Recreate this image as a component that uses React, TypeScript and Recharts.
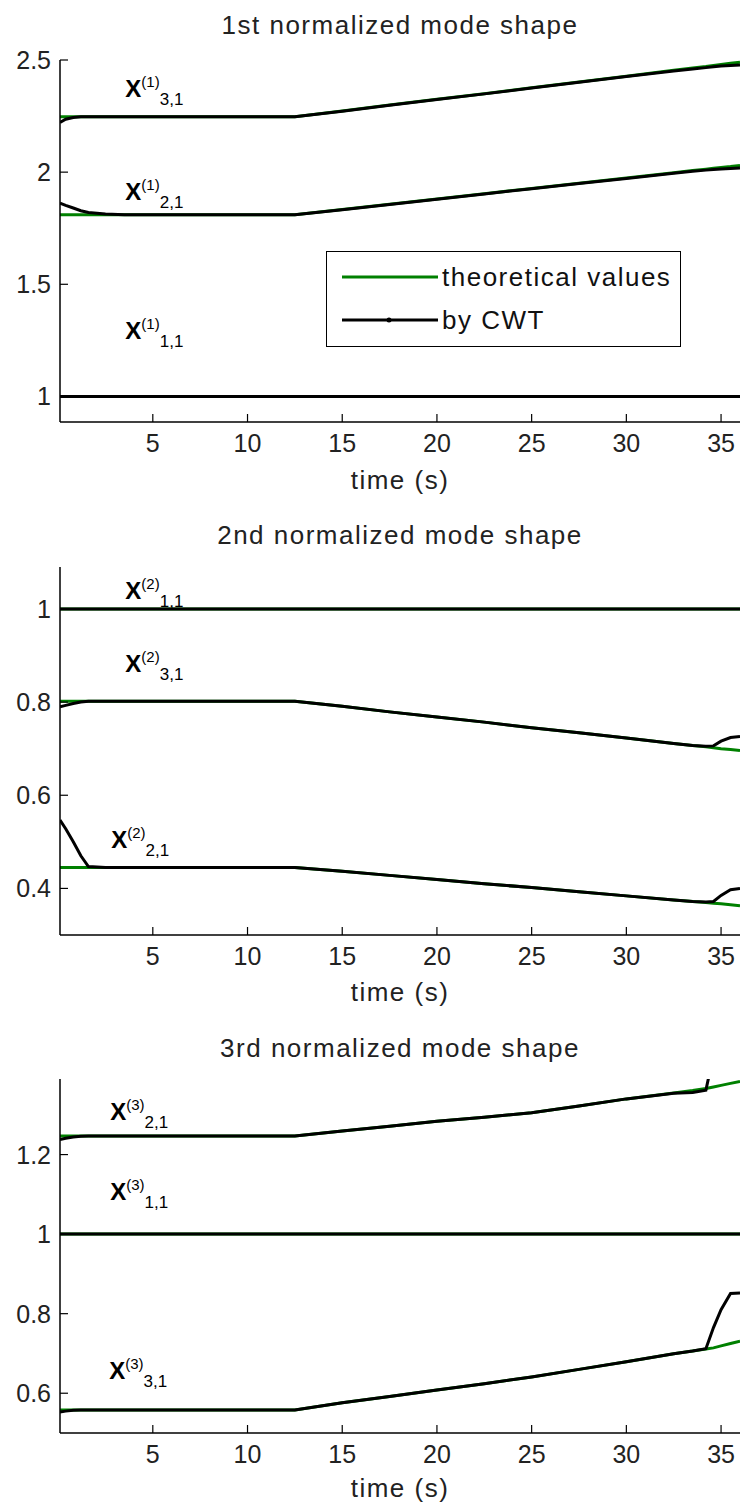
import React from "react";
import { LineChart, Line, XAxis, YAxis, ReferenceDot, Legend } from "recharts";

// shared time base (s)
const time = [0.1, 0.4, 0.8, 1.2, 1.6, 2.5, 3.5, 5, 10, 12.5, 15, 17.5, 20, 22.5, 25, 27.5, 30, 32.5, 33.5, 34.2, 34.6, 35, 35.5, 36];
const xTicks = [5, 10, 15, 20, 25, 30, 35];
const unity = [1, 1, 1, 1, 1, 1, 1, 1, 1, 1, 1, 1, 1, 1, 1, 1, 1, 1, 1, 1, 1, 1, 1, 1];
const legendNames = ["theoretical values", "by CWT"];

// 1st mode
const m1Theo31 = [2.247, 2.247, 2.247, 2.247, 2.247, 2.247, 2.247, 2.247, 2.247, 2.247, 2.273, 2.299, 2.325, 2.35, 2.376, 2.402, 2.428, 2.454, 2.464, 2.471, 2.476, 2.48, 2.485, 2.49];
const m1Cwt31 = [2.222, 2.236, 2.244, 2.247, 2.247, 2.247, 2.247, 2.247, 2.247, 2.247, 2.272, 2.298, 2.324, 2.349, 2.375, 2.401, 2.426, 2.451, 2.46, 2.466, 2.47, 2.473, 2.476, 2.478];
const m1Theo21 = [1.81, 1.81, 1.81, 1.81, 1.81, 1.81, 1.81, 1.81, 1.81, 1.81, 1.833, 1.857, 1.88, 1.904, 1.927, 1.95, 1.974, 1.997, 2.007, 2.013, 2.017, 2.021, 2.025, 2.03];
const m1Cwt21 = [1.862, 1.852, 1.84, 1.828, 1.82, 1.813, 1.81, 1.81, 1.81, 1.81, 1.832, 1.856, 1.879, 1.903, 1.926, 1.949, 1.972, 1.995, 2.004, 2.009, 2.012, 2.014, 2.016, 2.018];

// 2nd mode
const m2Theo31 = [0.802, 0.802, 0.802, 0.802, 0.802, 0.802, 0.802, 0.802, 0.802, 0.802, 0.791, 0.779, 0.768, 0.757, 0.745, 0.734, 0.723, 0.711, 0.707, 0.704, 0.702, 0.7, 0.698, 0.696];
const m2Cwt31 = [0.79, 0.793, 0.797, 0.8, 0.802, 0.802, 0.802, 0.802, 0.802, 0.802, 0.791, 0.779, 0.768, 0.757, 0.745, 0.734, 0.723, 0.711, 0.707, 0.705, 0.706, 0.716, 0.724, 0.726];
const m2Theo21 = [0.445, 0.445, 0.445, 0.445, 0.445, 0.445, 0.445, 0.445, 0.445, 0.445, 0.437, 0.428, 0.419, 0.41, 0.402, 0.393, 0.384, 0.375, 0.372, 0.37, 0.368, 0.367, 0.365, 0.363];
const m2Cwt21 = [0.547, 0.528, 0.5, 0.47, 0.447, 0.445, 0.445, 0.445, 0.445, 0.445, 0.437, 0.428, 0.419, 0.41, 0.402, 0.393, 0.384, 0.375, 0.372, 0.371, 0.372, 0.385, 0.397, 0.4];

// 3rd mode
const m3Theo21 = [1.247, 1.247, 1.247, 1.247, 1.247, 1.247, 1.247, 1.247, 1.247, 1.247, 1.259, 1.271, 1.284, 1.294, 1.305, 1.322, 1.34, 1.355, 1.361, 1.366, 1.37, 1.374, 1.379, 1.384];
const m3Cwt21 = [1.238, 1.241, 1.244, 1.246, 1.247, 1.247, 1.247, 1.247, 1.247, 1.247, 1.259, 1.271, 1.284, 1.294, 1.305, 1.322, 1.34, 1.354, 1.356, 1.362, 1.45, 1.55, 1.6, 1.65];
const m3Theo31 = [0.558, 0.558, 0.558, 0.558, 0.558, 0.558, 0.558, 0.558, 0.558, 0.558, 0.576, 0.592, 0.608, 0.624, 0.641, 0.66, 0.679, 0.699, 0.706, 0.711, 0.714, 0.719, 0.725, 0.731];
const m3Cwt31 = [0.553, 0.555, 0.557, 0.558, 0.558, 0.558, 0.558, 0.558, 0.558, 0.558, 0.576, 0.592, 0.608, 0.624, 0.641, 0.66, 0.679, 0.699, 0.706, 0.712, 0.765, 0.81, 0.851, 0.852];

const FONT = '"Liberation Sans", Arial, Helvetica, sans-serif';
const GREEN = "#008000";
const TICK = 8;

const rows = (g11: number[], c11: number[], g21: number[], c21: number[], g31: number[], c31: number[]) =>
  time.map((t, i) => ({ t, g11: g11[i], c11: c11[i], g21: g21[i], c21: c21[i], g31: g31[i], c31: c31[i] }));

const BottomTick = (p: any) => (
  <g>
    <line x1={p.x} x2={p.x} y1={p.y - 21} y2={p.y - 21 - TICK} stroke="#000" strokeWidth={1.2} />
    <text x={p.x} y={p.y} dy="0.36em" textAnchor="middle" fontSize={25} fontFamily={FONT} fill="#222">
      {p.payload.value}
    </text>
  </g>
);
const TopTick = (p: any) => (
  <line x1={p.x} x2={p.x} y1={p.y} y2={p.y + TICK} stroke="#000" strokeWidth={1.2} />
);
const LeftTick = (p: any) => (
  <g>
    <line x1={p.x + 9} x2={p.x + 9 + TICK} y1={p.y} y2={p.y} stroke="#000" strokeWidth={1.2} />
    <text x={p.x} y={p.y} dy="0.36em" textAnchor="end" fontSize={25} fontFamily={FONT} fill="#222">
      {p.payload.value}
    </text>
  </g>
);
const RightTick = (p: any) => (
  <line x1={p.x} x2={p.x - TICK} y1={p.y} y2={p.y} stroke="#000" strokeWidth={1.2} />
);

const modeLabel = (mode: number, sub: string) => (p: any) => (
  <text x={p.cx} y={p.cy} fontFamily={FONT} fill="#000">
    <tspan fontSize={24} fontWeight="bold">X</tspan>
    <tspan fontSize={15} dy={-10}>({mode})</tspan>
    <tspan fontSize={17} dy={18}>{sub}</tspan>
  </text>
);

const LegendBox = (props: any) => {
  const items = legendNames
    .map((n) => (props.payload || []).find((p: any) => p.value === n))
    .filter(Boolean);
  return (
    <div
      style={{
        width: 355, height: 96, border: "1.5px solid #000", background: "#fff",
        boxSizing: "border-box", position: "relative", fontFamily: FONT,
      }}
    >
      {items.map((p: any, i: number) => (
        <div key={p.value} style={{ position: "absolute", left: 15, top: 11 + i * 43, height: 28, display: "flex", alignItems: "center" }}>
          <svg width={96} height={10}>
            <line x1={0} x2={96} y1={5} y2={5} stroke={p.color} strokeWidth={3} />
            {i === 1 && <circle cx={47} cy={5} r={2.5} fill="#000" />}
          </svg>
          <span style={{ fontSize: 26, letterSpacing: 1.5, marginLeft: 4, color: "#111" }}>{p.value}</span>
        </div>
      ))}
    </div>
  );
};

interface PanelProps {
  top: number;
  height: number;
  margin: { top: number; right: number; bottom: number; left: number };
  data: any[];
  yDomain: [number, number];
  yTicks: number[];
  labels: { t: number; v: number; mode: number; sub: string }[];
  legend?: boolean;
}

function Panel({ top, height, margin, data, yDomain, yTicks, labels, legend }: PanelProps) {
  return (
    <div style={{ position: "absolute", left: 0, top }}>
      <LineChart width={742} height={height} data={data} margin={margin}>
        <XAxis dataKey="t" type="number" domain={[0.1, 36]} ticks={xTicks} interval={0} allowDataOverflow
          height={40} tickSize={0} tickMargin={21} tick={BottomTick} axisLine={{ stroke: "#000", strokeWidth: 1.5 }} />
        <XAxis xAxisId="top" orientation="top" dataKey="t" type="number" domain={[0.1, 36]} ticks={xTicks} interval={0}
          allowDataOverflow height={0} tickSize={0} tickMargin={0} tick={TopTick} axisLine={{ stroke: "#000", strokeWidth: 1.5 }} />
        <YAxis type="number" domain={yDomain} ticks={yTicks} interval={0} allowDataOverflow width={50}
          tickSize={0} tickMargin={9} tick={LeftTick} axisLine={{ stroke: "#000", strokeWidth: 1.5 }} />
        <YAxis yAxisId="right" orientation="right" type="number" domain={yDomain} ticks={yTicks} interval={0}
          allowDataOverflow width={0} tickSize={0} tickMargin={0} tick={RightTick} axisLine={{ stroke: "#000", strokeWidth: 1.5 }} />
        <Line type="linear" dataKey="g11" name="theoretical values" stroke={GREEN} strokeWidth={3} dot={false} isAnimationActive={false} />
        <Line type="linear" dataKey="g21" stroke={GREEN} strokeWidth={3} dot={false} isAnimationActive={false} legendType="none" />
        <Line type="linear" dataKey="g31" stroke={GREEN} strokeWidth={3} dot={false} isAnimationActive={false} legendType="none" />
        <Line type="linear" dataKey="c11" name="by CWT" stroke="#000" strokeWidth={3} dot={false} isAnimationActive={false} />
        <Line type="linear" dataKey="c21" stroke="#000" strokeWidth={3} dot={false} isAnimationActive={false} legendType="none" />
        <Line type="linear" dataKey="c31" stroke="#000" strokeWidth={3} dot={false} isAnimationActive={false} legendType="none" />
        {labels.map((l) => (
          <ReferenceDot key={l.sub + l.mode} x={l.t} y={l.v} r={0} shape={modeLabel(l.mode, l.sub)} />
        ))}
        {legend && (
          <Legend layout="horizontal" verticalAlign="middle" align="center" content={LegendBox}
            wrapperStyle={{ left: 326, top: 251, width: 355, height: 96 }} />
        )}
      </LineChart>
    </div>
  );
}

const Caption = ({ y, text }: { y: number; text: string }) => (
  <div style={{ position: "absolute", left: 60, width: 680, top: y - 15, height: 30, lineHeight: "30px",
    textAlign: "center", fontFamily: FONT, fontSize: 26, letterSpacing: 1.5, color: "#222", whiteSpace: "nowrap" }}>
    {text}
  </div>
);

export default function App() {
  return (
    <div style={{ position: "absolute", left: 0, top: 0, width: 742, height: 1506, background: "#fff", overflow: "hidden" }}>
      <Caption y={25} text="1st normalized mode shape" />
      <Caption y={480} text="time (s)" />
      <Caption y={535} text="2nd normalized mode shape" />
      <Caption y={992} text="time (s)" />
      <Caption y={1048} text="3rd normalized mode shape" />
      <Caption y={1488} text="time (s)" />
      <Panel
        top={0}
        height={500}
        margin={{ top: 60, right: 2, bottom: 38, left: 10 }}
        data={rows(unity, unity, m1Theo21, m1Cwt21, m1Theo31, m1Cwt31)}
        yDomain={[0.886, 2.5]}
        yTicks={[1, 1.5, 2, 2.5]}
        legend
        labels={[
          { t: 3.55, v: 2.335, mode: 1, sub: "3,1" },
          { t: 3.55, v: 1.876, mode: 1, sub: "2,1" },
          { t: 3.55, v: 1.254, mode: 1, sub: "1,1" },
        ]}
      />
      <Panel
        top={500}
        height={510}
        margin={{ top: 67, right: 2, bottom: 35, left: 10 }}
        data={rows(unity, unity, m2Theo21, m2Cwt21, m2Theo31, m2Cwt31)}
        yDomain={[0.3, 1.09]}
        yTicks={[0.4, 0.6, 0.8, 1]}
        labels={[
          { t: 3.55, v: 1.022, mode: 2, sub: "1,1" },
          { t: 3.55, v: 0.865, mode: 2, sub: "3,1" },
          { t: 2.8, v: 0.487, mode: 2, sub: "2,1" },
        ]}
      />
      <Panel
        top={1010}
        height={496}
        margin={{ top: 69, right: 2, bottom: 33, left: 10 }}
        data={rows(unity, unity, m3Theo21, m3Cwt21, m3Theo31, m3Cwt31)}
        yDomain={[0.5, 1.39]}
        yTicks={[0.6, 0.8, 1, 1.2]}
        labels={[
          { t: 2.75, v: 1.286, mode: 3, sub: "2,1" },
          { t: 2.75, v: 1.086, mode: 3, sub: "1,1" },
          { t: 2.7, v: 0.635, mode: 3, sub: "3,1" },
        ]}
      />
    </div>
  );
}
